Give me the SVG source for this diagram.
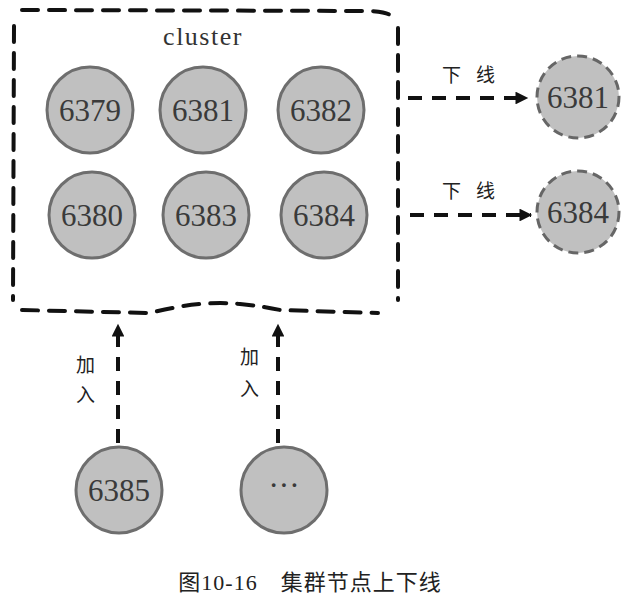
<svg xmlns="http://www.w3.org/2000/svg" width="631" height="602" viewBox="0 0 631 602">
<style>
.n circle{fill:#c0c0c0;stroke:#6e6e6e;stroke-width:3}
.off circle{fill:#c0c0c0;stroke:#666;stroke-width:3;stroke-dasharray:10 6}
.num{font-family:"Liberation Serif",serif;font-size:31px;fill:#3a3a3a;text-anchor:middle}
.cn{font-family:"Noto Sans CJK SC",sans-serif;font-size:19px;fill:#222}
.box{fill:none;stroke:#111;stroke-width:4;stroke-dasharray:16 11;stroke-linecap:round}
.edge{fill:none;stroke:#111;stroke-width:4;stroke-dasharray:14 10}
</style>
<defs>
<marker id="ah" viewBox="0 0 10 10" refX="9" refY="5" markerWidth="3.6" markerHeight="3.2" orient="auto" markerUnits="strokeWidth">
<path d="M0,0 L10,5 L0,10 z" fill="#111"/>
</marker>
</defs>
<rect width="631" height="602" fill="#fff"/>
<g id="cluster">
<path class="box" d="M22,10 L370,11 Q386,12 390,15"/>
<path class="box" d="M398,28 L398,300"/>
<path class="box" d="M14,26 L13,300"/>
<path class="box" d="M22,310 L150,313 Q200,300 240,304 Q262,306 280,310 L378,313"/>
<text x="203" y="45" font-family="Liberation Serif,serif" font-size="26" fill="#333" text-anchor="middle" letter-spacing="1.5">cluster</text>
</g>
<g id="n6379" class="n"><circle cx="90" cy="110" r="43"/><text class="num" x="90" y="121">6379</text></g>
<g id="n6381" class="n"><circle cx="203" cy="110" r="43"/><text class="num" x="203" y="121">6381</text></g>
<g id="n6382" class="n"><circle cx="321" cy="110" r="43"/><text class="num" x="321" y="121">6382</text></g>
<g id="n6380" class="n"><circle cx="92" cy="215" r="43"/><text class="num" x="92" y="226">6380</text></g>
<g id="n6383" class="n"><circle cx="206" cy="215" r="43"/><text class="num" x="206" y="226">6383</text></g>
<g id="n6384" class="n"><circle cx="324" cy="215" r="43"/><text class="num" x="324" y="226">6384</text></g>
<g id="off6381" class="off"><circle cx="578" cy="97" r="41"/><text class="num" x="578" y="108">6381</text></g>
<g id="off6384" class="off"><circle cx="578" cy="212" r="41"/><text class="num" x="578" y="223">6384</text></g>
<g id="n6385" class="n"><circle cx="119" cy="490" r="43"/><text class="num" x="119" y="501">6385</text></g>
<g id="nmore" class="n"><circle cx="284" cy="490" r="43"/><text class="num" x="284" y="496" font-size="24">···</text></g>
<g id="connectors">
<path class="edge" d="M408,98 L527,98" marker-end="url(#ah)"/>
<path class="edge" d="M410,215 L531,215" marker-end="url(#ah)"/>
<path class="edge" d="M118,443 L118,325" marker-end="url(#ah)"/>
<path class="edge" d="M278,443 L278,325" marker-end="url(#ah)"/>
<text class="cn" x="442" y="82" letter-spacing="15">下线</text>
<text class="cn" x="442" y="198" letter-spacing="15">下线</text>
<text class="cn" x="76" y="372">加</text>
<text class="cn" x="76" y="402">入</text>
<text class="cn" x="240" y="364">加</text>
<text class="cn" x="240" y="396">入</text>
</g>
<text x="310" y="590" font-family="Liberation Serif,Noto Sans CJK SC,serif" font-size="22" fill="#222" text-anchor="middle" letter-spacing="1">图10-16　集群节点上下线</text>
</svg>
